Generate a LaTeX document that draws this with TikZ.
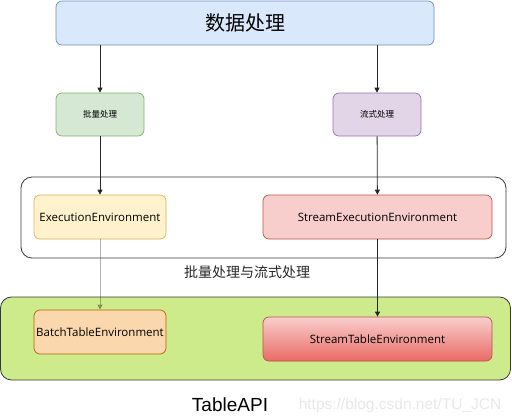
\documentclass[tikz,border=0pt]{standalone}
\usepackage{fontspec}
\setmainfont{Open Sans}
\newfontfamily\cjk{Noto Sans CJK SC}
\newfontfamily\arial{Liberation Sans}
\usetikzlibrary{arrows.meta}

\definecolor{blueF}{HTML}{DAE8FC}
\definecolor{blueD}{HTML}{6C8EBF}
\definecolor{greenF}{HTML}{D5E8D4}
\definecolor{greenD}{HTML}{82B366}
\definecolor{purpF}{HTML}{E1D5E7}
\definecolor{purpD}{HTML}{9673A6}
\definecolor{yellF}{HTML}{FFF2CC}
\definecolor{yellD}{HTML}{D6B656}
\definecolor{redF}{HTML}{F8CECC}
\definecolor{redD}{HTML}{B85450}
\definecolor{redG}{HTML}{EA6B66}
\definecolor{orF}{HTML}{FAD7AC}
\definecolor{orD}{HTML}{B46504}
\definecolor{limeF}{HTML}{CDEB8B}
\definecolor{frameD}{HTML}{36393D}

\tikzset{
  box/.style={rounded corners=6pt, inner sep=0pt, line width=0.7pt},
  envtext/.style={font=\fontsize{11.5}{14}\selectfont},
  frame/.style={rounded corners=11pt, inner sep=0pt, line width=0.8pt, draw=frameD},
  arr/.style={-{Triangle[length=5pt,width=5pt]}, line width=0.8pt, black!85}
}

\begin{document}
\begin{tikzpicture}[x=1pt,y=-1pt]

    \useasboundingbox (0,0) rectangle (512,418);

    % groups
    \node[frame, minimum width=485pt, minimum height=81pt] (group) at (263.5,217.5) {};
    \node[frame, fill=limeF, minimum width=510pt, minimum height=83pt] (api) at (255.5,338.5) {};

    % boxes
    \node[box, draw=blueD, fill=blueF, minimum width=378pt, minimum height=44pt, font=\cjk\fontsize{20}{24}\selectfont] (data) at (245,23) {数据处理};

    \node[box, draw=greenD, fill=greenF, minimum width=88pt, minimum height=43pt, font=\cjk\fontsize{8.5}{10}\selectfont] (batch) at (100,114.5) {批量处理};
    \node[box, draw=purpD, fill=purpF, minimum width=88pt, minimum height=43pt, font=\cjk\fontsize{8.5}{10}\selectfont] (flow) at (377,114.5) {流式处理};

    \node[box, envtext, draw=yellD, fill=yellF, minimum width=132pt, minimum height=44pt] (exec) at (100,217) {ExecutionEnvironment};
    \node[box, envtext, draw=redD, fill=redF, minimum width=229pt, minimum height=44pt] (sexec) at (377.5,217) {StreamExecutionEnvironment};

    \node[box, envtext, draw=orD, fill=orF, minimum width=132pt, minimum height=44pt] (btable) at (100,332) {BatchTableEnvironment};
    \node[box, envtext, draw=redD, top color=redF, bottom color=redG, minimum width=229pt, minimum height=44pt] (stable) at (377.5,339) {StreamTableEnvironment};

    % labels
    \node[font=\cjk\fontsize{14}{16}\selectfont, text=black!85] (glabel) at (247,272) {批量处理与流式处理};
    \node[font=\arial\fontsize{19}{22}\selectfont] (apilabel) at (230,405) {TableAPI};
    \node[font=\arial\fontsize{15.5}{18}\selectfont, text=black!9] (mark) at (400,405) {https://blog.csdn.net/TU\_JCN};

    % arrows
    \draw[arr] (data.south -| batch.north) -- (batch.north);
    \draw[arr] (data.south -| flow.north) -- (flow.north);
    \draw[arr] (batch) -- (exec);
    \draw[arr] (flow) -- (sexec);
    \draw[arr, opacity=.35] (exec) -- (btable);
    \draw[arr] (sexec) -- (stable);

\end{tikzpicture}
\end{document}
